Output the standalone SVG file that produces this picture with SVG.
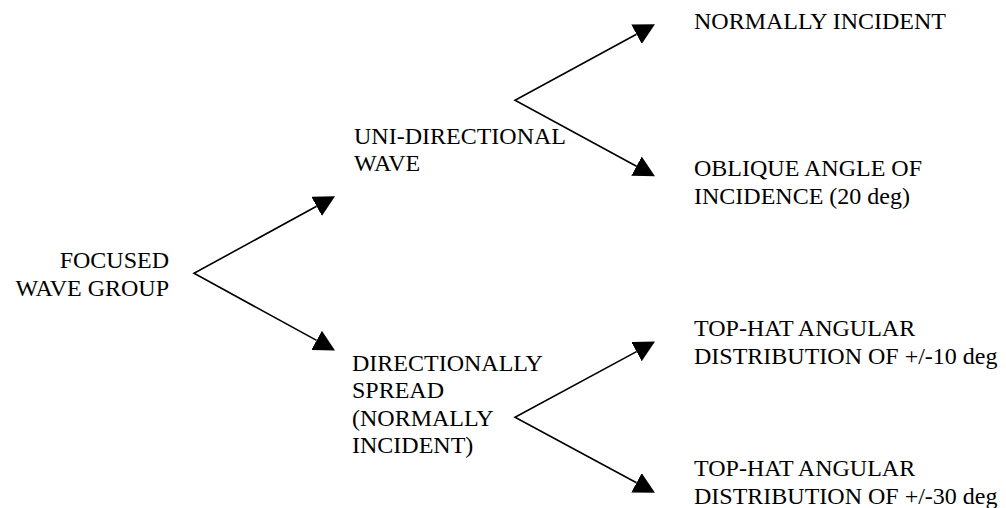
<svg xmlns="http://www.w3.org/2000/svg" width="1006" height="508" viewBox="0 0 1006 508">
<style>
text{font-family:"Liberation Serif","Times New Roman",serif;font-size:24px;fill:#000}
.c{fill:none;stroke:#000;stroke-width:1.6;stroke-linejoin:miter}
</style>
<defs>
<marker id="ah" markerUnits="userSpaceOnUse" markerWidth="21" markerHeight="22" viewBox="0 0 21 22" refX="0" refY="11" orient="auto-start-reverse">
<path d="M0,0 L21,11 L0,22 Z" fill="#000"/>
</marker>
</defs>
<rect width="1006" height="508" fill="#fff"/>
<g id="connectors">
<path class="c" d="M316.6,206.3 L194,273.3 L316.6,340.4" marker-start="url(#ah)" marker-end="url(#ah)"/>
<path class="c" d="M636.5,34.2 L515,100.2 L636.5,166.2" marker-start="url(#ah)" marker-end="url(#ah)"/>
<path class="c" d="M636.5,351.6 L515,417.2 L636.5,482.8" marker-start="url(#ah)" marker-end="url(#ah)"/>
</g>
<g id="focused">
<text x="169" y="268" text-anchor="end">FOCUSED</text>
<text x="169" y="296" text-anchor="end">WAVE GROUP</text>
</g>
<g id="unidirectional">
<text x="354" y="144">UNI-DIRECTIONAL</text>
<text x="354" y="171">WAVE</text>
</g>
<g id="spread">
<text x="352" y="370.5">DIRECTIONALLY</text>
<text x="352" y="398">SPREAD</text>
<text x="352" y="425.5">(NORMALLY</text>
<text x="352" y="453">INCIDENT)</text>
</g>
<g id="normal">
<text x="694" y="29">NORMALLY INCIDENT</text>
</g>
<g id="oblique">
<text x="694" y="176">OBLIQUE ANGLE OF</text>
<text x="694" y="203.5">INCIDENCE (20 deg)</text>
</g>
<g id="tophat10">
<text x="694" y="336">TOP-HAT ANGULAR</text>
<text x="694" y="363.5">DISTRIBUTION OF +/-10 deg</text>
</g>
<g id="tophat30">
<text x="694" y="476">TOP-HAT ANGULAR</text>
<text x="694" y="503.5">DISTRIBUTION OF +/-30 deg</text>
</g>
</svg>
